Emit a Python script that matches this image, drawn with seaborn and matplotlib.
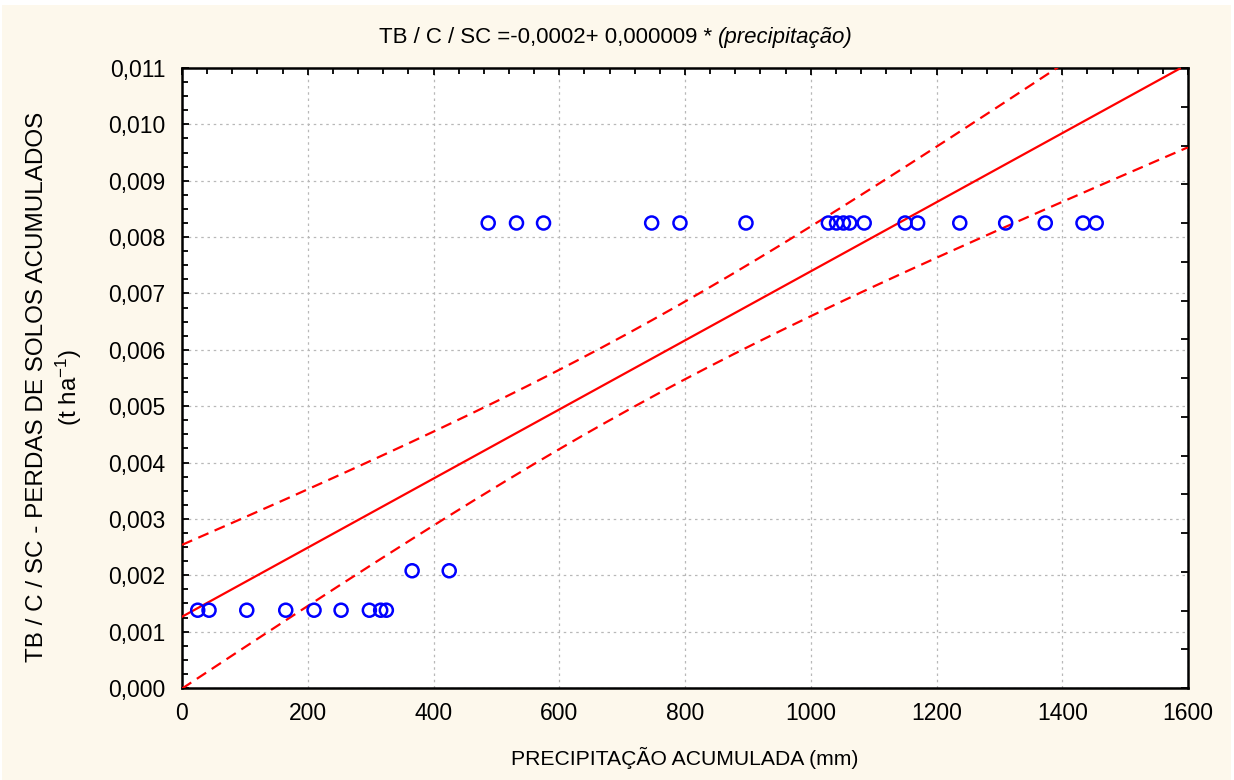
import numpy as np
import pandas as pd
import matplotlib
matplotlib.use("Agg")
import matplotlib.pyplot as plt
from matplotlib.ticker import FuncFormatter, MultipleLocator, NullFormatter
from matplotlib.patches import Rectangle
import seaborn as sns

# ---- data ----
precip = [25, 43, 103, 165, 210, 253, 298, 316, 325, 366, 425,
          487, 532, 575, 747, 792, 897, 1028, 1041, 1052, 1062, 1085,
          1150, 1170, 1237, 1310, 1373, 1433, 1454]
perdas = [0.00138] * 9 + [0.00208] * 2 + [0.00825] * 18
x_ticks = [0, 200, 400, 600, 800, 1000, 1200, 1400, 1600]
y_ticks = [0.000, 0.001, 0.002, 0.003, 0.004, 0.005, 0.006, 0.007, 0.008, 0.009, 0.010, 0.011]

df = pd.DataFrame({"precip": precip, "perdas": perdas})

# ---- linear fit and 95% confidence band ----
x = np.asarray(precip, float)
y = np.asarray(perdas, float)
n = len(x)
b1, b0 = np.polyfit(x, y, 1)
resid = y - (b0 + b1 * x)
s = np.sqrt(np.sum(resid ** 2) / (n - 2))
sxx = np.sum((x - x.mean()) ** 2)
tval = 2.0518  # t(0.975, 27)
xg = np.linspace(0, 1600, 200)
yg = b0 + b1 * xg
hw = tval * s * np.sqrt(1 / n + (xg - x.mean()) ** 2 / sxx)
fit = pd.DataFrame({"x": xg, "fit": yg, "lo": yg - hw, "hi": yg + hw})

sns.set_theme(style="white")
plt.rcParams["font.family"] = ["Liberation Sans", "DejaVu Sans"]
plt.rcParams["mathtext.default"] = "regular"
plt.rcParams["text.color"] = "black"
plt.rcParams["axes.labelcolor"] = "black"
plt.rcParams["xtick.color"] = "black"
plt.rcParams["ytick.color"] = "black"

bg = "#fdf8ec"
fig = plt.figure(figsize=(12.34, 7.8), dpi=100)
fig.patch.set_facecolor("white")
fig.patches.append(Rectangle((2 / 1234, 0), 1229 / 1234, 1 - 5 / 780,
                             transform=fig.transFigure, facecolor=bg,
                             edgecolor="none", zorder=-10))
ax = fig.add_axes([182 / 1234, 1 - 688 / 780, (1188 - 182) / 1234, (688 - 68) / 780])
ax.set_facecolor("white")

sns.lineplot(data=fit, x="x", y="fit", ax=ax, color="#ff0000", lw=1.6, zorder=3)
sns.lineplot(data=fit, x="x", y="hi", ax=ax, color="#ff0000", lw=1.6, zorder=3)
ax.lines[-1].set_dashes([5, 3])
sns.lineplot(data=fit, x="x", y="lo", ax=ax, color="#ff0000", lw=1.6, zorder=3)
ax.lines[-1].set_dashes([5, 3])

sns.scatterplot(data=df, x="precip", y="perdas", ax=ax, marker="o", s=88,
                facecolor="none", edgecolor="#0000ff", linewidth=1.8, zorder=4)

ax.set_xlim(0, 1600)
ax.set_ylim(0, 0.011)
ax.set_xticks(x_ticks)
ax.set_yticks(y_ticks)
ax.xaxis.set_minor_locator(MultipleLocator(40))
ax.yaxis.set_minor_locator(MultipleLocator(0.00025))
ax.yaxis.set_major_formatter(FuncFormatter(lambda v, p: f"{v:.3f}".replace(".", ",")))
ax.xaxis.set_major_formatter(FuncFormatter(lambda v, p: f"{v:.0f}"))
ax.tick_params(axis="both", which="both", direction="in", length=5, width=1.3,
               color="black", labelcolor="black", labelsize=16.5, top=True, right=False)
ax.tick_params(axis="y", which="major", pad=12)
ax.tick_params(axis="x", which="major", pad=10)
ax.tick_params(axis="both", which="minor", length=4)
ax.grid(True, which="major", color="#b8b8b8", linestyle=(0, (2, 3)), lw=0.9)
for sp in ax.spines.values():
    sp.set_color("black")
    sp.set_linewidth(1.8)

# right-hand axis of the original has 16 equal tick intervals, unlabeled
ax2 = ax.twinx()
ax2.set_ylim(0, 16)
ax2.set_yticks(range(17))
ax2.yaxis.set_major_formatter(NullFormatter())
ax2.tick_params(axis="y", direction="in", length=5, width=1.3, color="black")
ax2.grid(False)
for sp in ax2.spines.values():
    sp.set_visible(False)

ax.set_xlabel("PRECIPITAÇÃO ACUMULADA (mm)", fontsize=15.2, labelpad=16)
ax.set_ylabel("TB / C / SC - PERDAS DE SOLOS ACUMULADOS\n(t ha$^{-1}$)",
              fontsize=17.5, labelpad=16, linespacing=1.25)
ax.yaxis.set_label_coords(-0.097, 0.485)

fig.text(712 / 1234, 1 - 38 / 780, "TB / C / SC =-0,0002+ 0,000009 *",
         ha="right", va="center", fontsize=16)
fig.text(718 / 1234, 1 - 38 / 780, "(precipitação)", ha="left", va="center",
         fontsize=16, style="italic")

fig.savefig("out.png", dpi=100, facecolor=fig.get_facecolor())
